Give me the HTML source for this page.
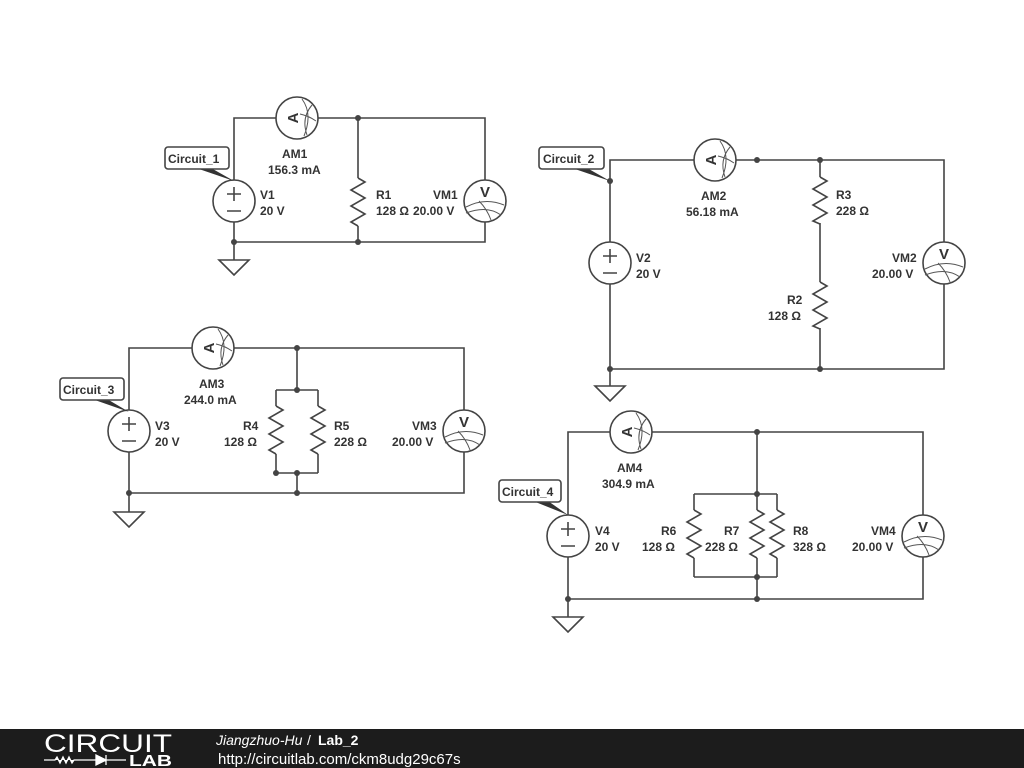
<!DOCTYPE html>
<html><head><meta charset="utf-8"><style>
html,body{margin:0;padding:0;background:#fff;}
svg{display:block;}
text{font-family:"Liberation Sans",sans-serif;font-weight:bold;font-size:12px;fill:#333;}
.w{stroke:#444;stroke-width:1.6;fill:none;}
.c{stroke:#444;stroke-width:1.6;fill:#fff;}
.t{stroke:#555;stroke-width:1;fill:none;}
.d{fill:#444;}
</style></head><body>
<svg width="1024" height="768" viewBox="0 0 1024 768" xmlns="http://www.w3.org/2000/svg">
<!-- Circuit 1 -->
<path class="w" d="M234,180 V118 H485 V180 M485,222 V242 H234 V222 M358,118 V178 M358,226 V242 M234,242 V260"/>
<path class="w" d="M358,178 l7,4 l-14,8 l14,8 l-14,8 l14,8 l-14,8 l7,4"/>
<path class="w" d="M219,260 H249 L234,275 Z"/>
<circle class="d" cx="358" cy="118" r="3"/><circle class="d" cx="358" cy="242" r="3"/><circle class="d" cx="234" cy="242" r="3"/>
<g transform="translate(234,201)"><circle class="c" r="21"/><path class="w" d="M-7,-7 H7 M0,-14 V0 M-7,10 H7"/></g>
<g transform="translate(297,118)"><circle class="c" r="21"/><text transform="translate(-4,0) rotate(-90)" text-anchor="middle" y="5" style="font-size:15px">A</text><path class="t" d="M5,-19 Q16,-4 7,18 M15,-13 Q4,0 10,17 M3,-4 Q12,-2 19,3"/></g>
<g transform="translate(485,201)"><circle class="c" r="21"/><text x="0" y="-4" text-anchor="middle" style="font-size:15px">V</text><path class="t" d="M-19,6 Q0,-4 19,4 M-6,0 Q2,8 6,19 M-19,12 Q2,4 16,14"/></g>
<text x="282" y="158">AM1</text><text x="268" y="174">156.3 mA</text>
<text x="260" y="199">V1</text><text x="260" y="215">20 V</text>
<text x="376" y="199">R1</text><text x="376" y="215">128 Ω</text>
<text x="433" y="199">VM1</text><text x="413" y="215">20.00 V</text>
<path d="M196,168 L211,168 L234,181 Z" fill="#333"/>
<rect x="165" y="147" width="64" height="22" rx="3" fill="#fff" stroke="#444" stroke-width="1.6"/>
<text x="168" y="163">Circuit_1</text>

<!-- Circuit 2 -->
<path class="w" d="M610,242 V160 H944 V242 M944,284 V369 H610 V284 M820,160 V177 M820,223 V282 M820,328 V369 M610,369 V386"/>
<path class="w" d="M820,177 l7,4 l-14,8 l14,8 l-14,8 l14,8 l-14,8 l7,3 M820,282 l7,4 l-14,8 l14,8 l-14,8 l14,8 l-14,8 l7,3"/>
<path class="w" d="M595,386 H625 L610,401 Z"/>
<circle class="d" cx="757" cy="160" r="3"/><circle class="d" cx="820" cy="160" r="3"/><circle class="d" cx="820" cy="369" r="3"/><circle class="d" cx="610" cy="369" r="3"/><circle class="d" cx="610" cy="181" r="3"/>
<g transform="translate(610,263)"><circle class="c" r="21"/><path class="w" d="M-7,-7 H7 M0,-14 V0 M-7,10 H7"/></g>
<g transform="translate(715,160)"><circle class="c" r="21"/><text transform="translate(-4,0) rotate(-90)" text-anchor="middle" y="5" style="font-size:15px">A</text><path class="t" d="M5,-19 Q16,-4 7,18 M15,-13 Q4,0 10,17 M3,-4 Q12,-2 19,3"/></g>
<g transform="translate(944,263)"><circle class="c" r="21"/><text x="0" y="-4" text-anchor="middle" style="font-size:15px">V</text><path class="t" d="M-19,6 Q0,-4 19,4 M-6,0 Q2,8 6,19 M-19,12 Q2,4 16,14"/></g>
<text x="701" y="200">AM2</text><text x="686" y="216">56.18 mA</text>
<text x="636" y="262">V2</text><text x="636" y="278">20 V</text>
<text x="836" y="199">R3</text><text x="836" y="215">228 Ω</text>
<text x="787" y="304">R2</text><text x="768" y="320">128 Ω</text>
<text x="892" y="262">VM2</text><text x="872" y="278">20.00 V</text>
<path d="M572,168 L587,168 L610,181 Z" fill="#333"/>
<rect x="539" y="147" width="65" height="22" rx="3" fill="#fff" stroke="#444" stroke-width="1.6"/>
<text x="543" y="163">Circuit_2</text>

<!-- Circuit 3 -->
<path class="w" d="M129,410 V348 H464 V410 M464,452 V493 H129 V452 M297,348 V390 M276,390 H318 M276,390 V406 M318,390 V406 M276,454 V473 M318,454 V473 M276,473 H318 M297,473 V493 M129,493 V512"/>
<path class="w" d="M276,406 l7,4 l-14,8 l14,8 l-14,8 l14,8 l-14,8 l7,4 M318,406 l7,4 l-14,8 l14,8 l-14,8 l14,8 l-14,8 l7,4"/>
<path class="w" d="M114,512 H144 L129,527 Z"/>
<circle class="d" cx="297" cy="348" r="3"/><circle class="d" cx="297" cy="390" r="3"/><circle class="d" cx="297" cy="473" r="3"/><circle class="d" cx="276" cy="473" r="3"/><circle class="d" cx="297" cy="493" r="3"/><circle class="d" cx="129" cy="493" r="3"/>
<g transform="translate(129,431)"><circle class="c" r="21"/><path class="w" d="M-7,-7 H7 M0,-14 V0 M-7,10 H7"/></g>
<g transform="translate(213,348)"><circle class="c" r="21"/><text transform="translate(-4,0) rotate(-90)" text-anchor="middle" y="5" style="font-size:15px">A</text><path class="t" d="M5,-19 Q16,-4 7,18 M15,-13 Q4,0 10,17 M3,-4 Q12,-2 19,3"/></g>
<g transform="translate(464,431)"><circle class="c" r="21"/><text x="0" y="-4" text-anchor="middle" style="font-size:15px">V</text><path class="t" d="M-19,6 Q0,-4 19,4 M-6,0 Q2,8 6,19 M-19,12 Q2,4 16,14"/></g>
<text x="199" y="388">AM3</text><text x="184" y="404">244.0 mA</text>
<text x="155" y="430">V3</text><text x="155" y="446">20 V</text>
<text x="243" y="430">R4</text><text x="224" y="446">128 Ω</text>
<text x="334" y="430">R5</text><text x="334" y="446">228 Ω</text>
<text x="412" y="430">VM3</text><text x="392" y="446">20.00 V</text>
<path d="M92,399 L107,399 L129,412 Z" fill="#333"/>
<rect x="60" y="378" width="64" height="22" rx="3" fill="#fff" stroke="#444" stroke-width="1.6"/>
<text x="63" y="394">Circuit_3</text>

<!-- Circuit 4 -->
<path class="w" d="M568,515 V432 H923 V515 M923,557 V599 H568 V557 M757,432 V494 M694,494 H777 M694,494 V510 M757,494 V510 M777,494 V510 M694,558 V577 M757,558 V577 M777,558 V577 M694,577 H777 M757,577 V599 M568,599 V617"/>
<path class="w" d="M694,510 l7,4 l-14,8 l14,8 l-14,8 l14,8 l-14,8 l7,4 M757,510 l7,4 l-14,8 l14,8 l-14,8 l14,8 l-14,8 l7,4 M777,510 l7,4 l-14,8 l14,8 l-14,8 l14,8 l-14,8 l7,4"/>
<path class="w" d="M553,617 H583 L568,632 Z"/>
<circle class="d" cx="757" cy="432" r="3"/><circle class="d" cx="757" cy="494" r="3"/><circle class="d" cx="757" cy="577" r="3"/><circle class="d" cx="757" cy="599" r="3"/><circle class="d" cx="568" cy="599" r="3"/>
<g transform="translate(568,536)"><circle class="c" r="21"/><path class="w" d="M-7,-7 H7 M0,-14 V0 M-7,10 H7"/></g>
<g transform="translate(631,432)"><circle class="c" r="21"/><text transform="translate(-4,0) rotate(-90)" text-anchor="middle" y="5" style="font-size:15px">A</text><path class="t" d="M5,-19 Q16,-4 7,18 M15,-13 Q4,0 10,17 M3,-4 Q12,-2 19,3"/></g>
<g transform="translate(923,536)"><circle class="c" r="21"/><text x="0" y="-4" text-anchor="middle" style="font-size:15px">V</text><path class="t" d="M-19,6 Q0,-4 19,4 M-6,0 Q2,8 6,19 M-19,12 Q2,4 16,14"/></g>
<text x="617" y="472">AM4</text><text x="602" y="488">304.9 mA</text>
<text x="595" y="535">V4</text><text x="595" y="551">20 V</text>
<text x="661" y="535">R6</text><text x="642" y="551">128 Ω</text>
<text x="724" y="535">R7</text><text x="705" y="551">228 Ω</text>
<text x="793" y="535">R8</text><text x="793" y="551">328 Ω</text>
<text x="871" y="535">VM4</text><text x="852" y="551">20.00 V</text>
<path d="M533,501 L548,501 L568,515 Z" fill="#333"/>
<rect x="499" y="480" width="62" height="22" rx="3" fill="#fff" stroke="#444" stroke-width="1.6"/>
<text x="502" y="496">Circuit_4</text>

<!-- Footer -->
<rect x="0" y="729" width="1024" height="39" fill="#1c1c1c"/>
<text x="44" y="752" textLength="128" lengthAdjust="spacingAndGlyphs" style="font-weight:normal;font-size:25px;fill:#fff">CIRCUIT</text>
<path d="M44,760 H55 l2,-3 l3,6 l3,-6 l3,6 l3,-6 l3,6 l2,-3 H96 M96,755 V765 L106,760 Z M106,755 V765 M106,760 H126" stroke="#fff" stroke-width="1.3" fill="#fff"/>
<text x="129" y="766" textLength="43" lengthAdjust="spacingAndGlyphs" style="font-size:16px;fill:#fff">LAB</text>
<text x="216" y="745" style="font-weight:normal;font-style:italic;font-size:14px;fill:#fff">Jiangzhuo-Hu</text>
<text x="307" y="745" style="font-weight:normal;font-size:14px;fill:#fff">/</text>
<text x="318" y="745" style="font-size:14px;fill:#fff">Lab_2</text>
<text x="218" y="764" style="font-weight:normal;font-size:15px;fill:#fff">http://circuitlab.com/ckm8udg29c67s</text>
</svg>
</body></html>
